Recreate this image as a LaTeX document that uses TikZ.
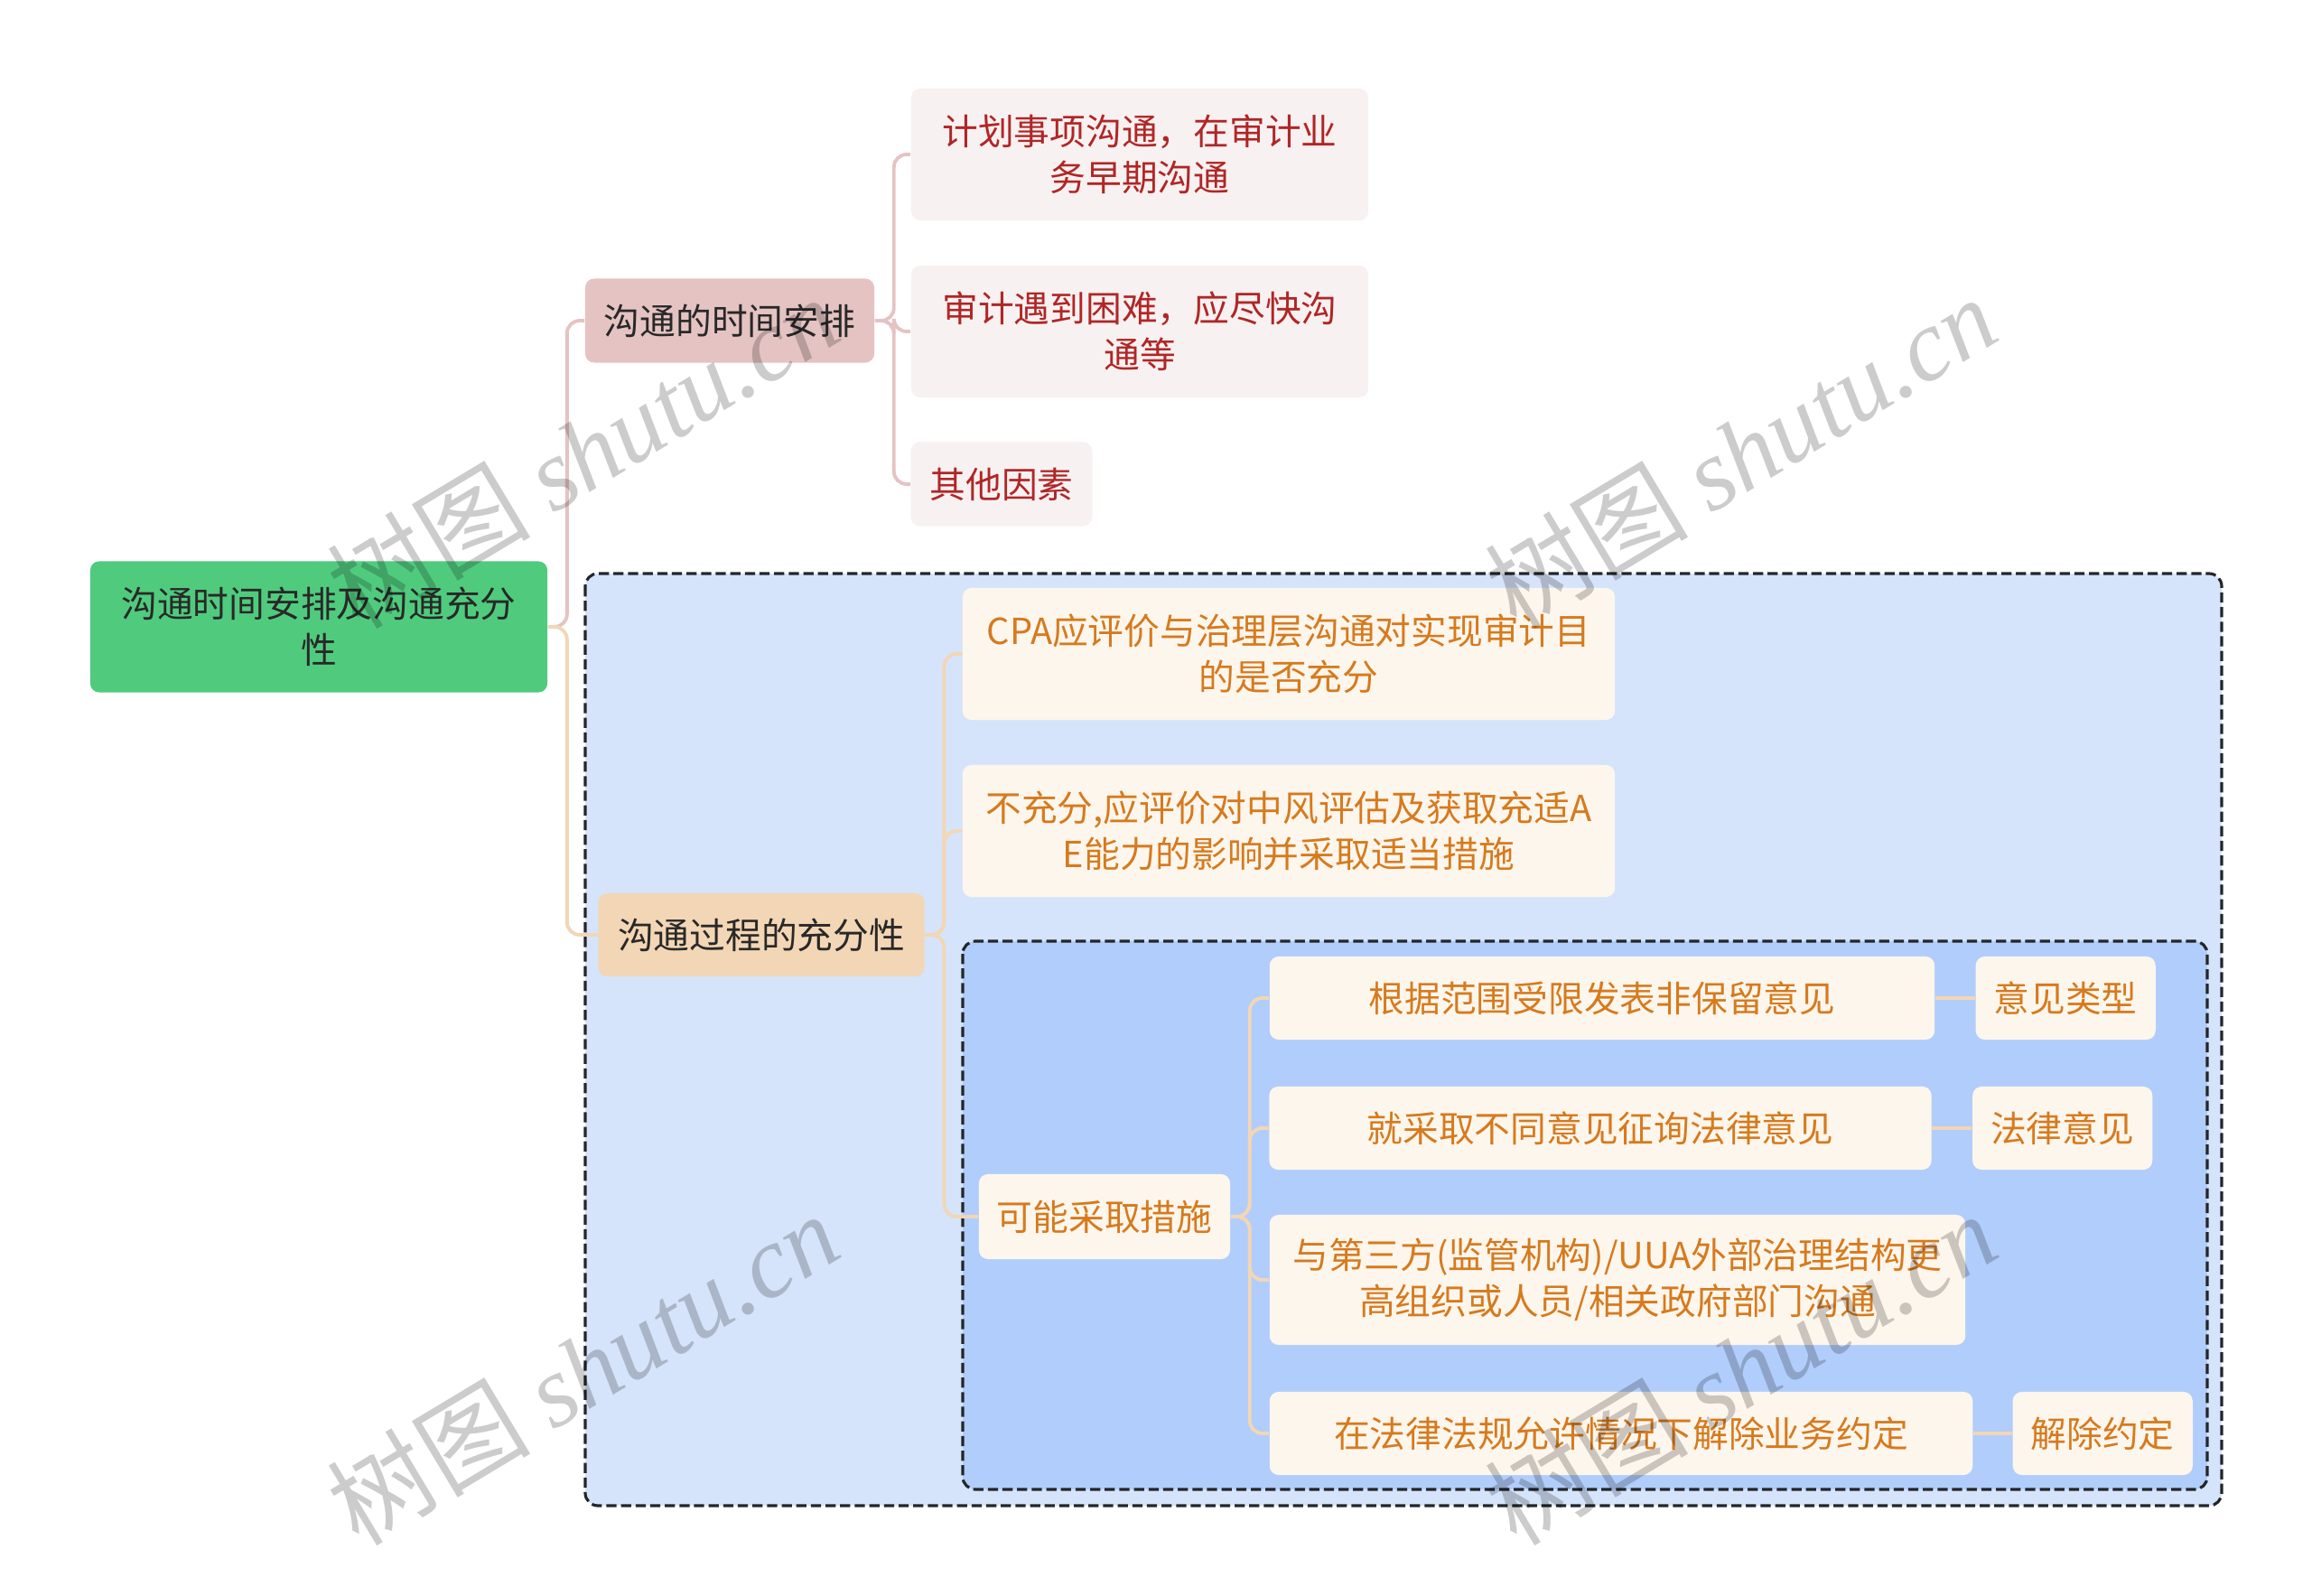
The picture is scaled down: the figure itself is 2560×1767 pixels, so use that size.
\documentclass[tikz,border=0pt]{standalone}
\usepackage{fontspec}
\setmainfont{Noto Sans CJK SC}
\newfontfamily\marcafont{Liberation Serif}
\usetikzlibrary{positioning}
\definecolor{VerdeRaiz}{RGB}{80,203,126}
\definecolor{RosaOscuro}{RGB}{229,195,195}
\definecolor{RosaPalido}{RGB}{248,241,241}
\definecolor{RojoTexto}{RGB}{176,38,38}
\definecolor{NaranjaOscuro}{RGB}{243,214,181}
\definecolor{NaranjaPalido}{RGB}{253,246,236}
\definecolor{NaranjaTexto}{RGB}{214,122,30}
\definecolor{AzulPalido}{RGB}{213,228,251}
\definecolor{AzulMedio}{RGB}{177,205,251}
\definecolor{GrisTexto}{RGB}{40,40,40}
\definecolor{GrisMarco}{RGB}{35,38,42}
\newcommand\fuentemapa{\fontsize{11.3pt}{14.4pt}\selectfont}
\tikzset{
  raizbox/.style={fill=VerdeRaiz, rounded corners=0.1cm, align=center, text=GrisTexto,
    font=\fuentemapa, minimum width=#1, minimum height=1.45cm, inner sep=2pt},
  raizbox/.default=5.06cm,
  rosabox/.style={fill=RosaOscuro, rounded corners=0.1cm, align=center, text=GrisTexto,
    font=\fuentemapa, minimum width=#1, minimum height=0.93cm, inner sep=2pt},
  rosabox/.default=3.2cm,
  naranjabox/.style={fill=NaranjaOscuro, rounded corners=0.1cm, align=center, text=GrisTexto,
    font=\fuentemapa, minimum width=#1, minimum height=0.92cm, inner sep=2pt},
  naranjabox/.default=3.6cm,
  hojarosa/.style={fill=RosaPalido, rounded corners=0.1cm, align=center, text=RojoTexto,
    font=\fuentemapa, minimum width=#1, minimum height=0.93cm, inner sep=2pt},
  hojarosa/.default=5.06cm,
  hojanaranja/.style={fill=NaranjaPalido, rounded corners=0.1cm, align=center, text=NaranjaTexto,
    font=\fuentemapa, minimum width=#1, minimum height=0.92cm, inner sep=2pt},
  hojanaranja/.default=1.99cm,
  doble/.style={minimum height=1.46cm},
  ramarosa/.style={draw=RosaOscuro, line width=1.1pt, rounded corners=0.14cm},
  ramanaranja/.style={draw=NaranjaOscuro, line width=1.1pt, rounded corners=0.14cm},
  marcobox/.style={draw=GrisMarco, line width=0.9pt, dash pattern=on 3.2pt off 1.4pt,
    rounded corners=0.14cm},
  marcaagua/.style={rotate=31, text=black, text opacity=0.2,
    font=\fontsize{32pt}{32pt}\selectfont, inner sep=0pt},
}
\begin{document}
\begin{tikzpicture}[x=0.01cm, y=-0.01cm]
  \useasboundingbox (0,0) rectangle (2560,1767);
  % marcos punteados
  \draw[marcobox, fill=AzulPalido] (648,635) rectangle (2460,1667);
  \draw[marcobox, fill=AzulMedio] (1066,1042) rectangle (2444,1649);

  \node[raizbox] (raiz) at (353,694) {沟通时间安排及沟通充分\\性};

  % rama superior
  \node[rosabox] (tiempo) at (808,355) {沟通的时间安排};
  \node[hojarosa, doble] (t1) at (1262,171) {计划事项沟通，在审计业\\务早期沟通};
  \node[hojarosa, doble] (t2) at (1262,367) {审计遇到困难，应尽快沟\\通等};
  \node[hojarosa=2.01cm] (t3) at (1109,536) {其他因素};

  % rama inferior
  \node[naranjabox=3.61cm] (proceso) at (843,1035) {沟通过程的充分性};
  \node[hojanaranja=7.22cm, doble] (p1) at (1427,724) {CPA应评价与治理层沟通对实现审计目\\的是否充分};
  \node[hojanaranja=7.22cm, doble] (p2) at (1427,920) {不充分,应评价对中风评估及获取充适A\\E能力的影响并采取适当措施};
  \node[hojanaranja=2.78cm, minimum height=0.94cm] (medidas) at (1223,1347) {可能采取措施};
  \node[hojanaranja=7.36cm] (m1) at (1774,1105) {根据范围受限发表非保留意见};
  \node[hojanaranja, right=0.44cm of m1] (m1b) {意见类型};
  \node[hojanaranja=7.33cm] (m2) at (1772,1249) {就采取不同意见征询法律意见};
  \node[hojanaranja, right=0.44cm of m2] (m2b) {法律意见};
  \node[hojanaranja=7.70cm, doble, minimum height=1.44cm] (m3) at (1791,1417) {与第三方(监管机构)/UUA外部治理结构更\\高组织或人员/相关政府部门沟通};
  \node[hojanaranja=7.78cm] (m4) at (1795,1587) {在法律法规允许情况下解除业务约定};
  \node[hojanaranja, right=0.43cm of m4] (m4b) {解除约定};

  % conectores
  \draw[ramarosa] (raiz.east) -- ++(21,0) |- (tiempo.west);
  \draw[ramanaranja] (raiz.east) -- ++(21,0) |- (proceso.west);
  \draw[ramarosa] (tiempo.east) -- ++(21,0) |- (t1.west);
  \draw[ramarosa] (tiempo.east) -- ++(21,0) |- (t2.west);
  \draw[ramarosa] (tiempo.east) -- ++(21,0) |- (t3.west);
  \draw[ramanaranja] (proceso.east) -- ++(21,0) |- (p1.west);
  \draw[ramanaranja] (proceso.east) -- ++(21,0) |- (p2.west);
  \draw[ramanaranja] (proceso.east) -- ++(21,0) |- (medidas.west);
  \draw[ramanaranja] (medidas.east) -- ++(21,0) |- (m1.west);
  \draw[ramanaranja] (medidas.east) -- ++(21,0) |- (m2.west);
  \draw[ramanaranja] (medidas.east) -- ++(21,0) |- (m3.west);
  \draw[ramanaranja] (medidas.east) -- ++(21,0) |- (m4.west);
  \draw[ramanaranja] (m1) -- (m1b);
  \draw[ramanaranja] (m2) -- (m2b);
  \draw[ramanaranja] (m4) -- (m4b);

  % marcas de agua
  \node[marcaagua] (wm1) at (645,500) {树图 {\marcafont\itshape shutu.cn}};
  \node[marcaagua] (wm2) at (1927,500) {树图 {\marcafont\itshape shutu.cn}};
  \node[marcaagua] (wm3) at (645,1515) {树图 {\marcafont\itshape shutu.cn}};
  \node[marcaagua] (wm4) at (1927,1515) {树图 {\marcafont\itshape shutu.cn}};
\end{tikzpicture}
\end{document}
